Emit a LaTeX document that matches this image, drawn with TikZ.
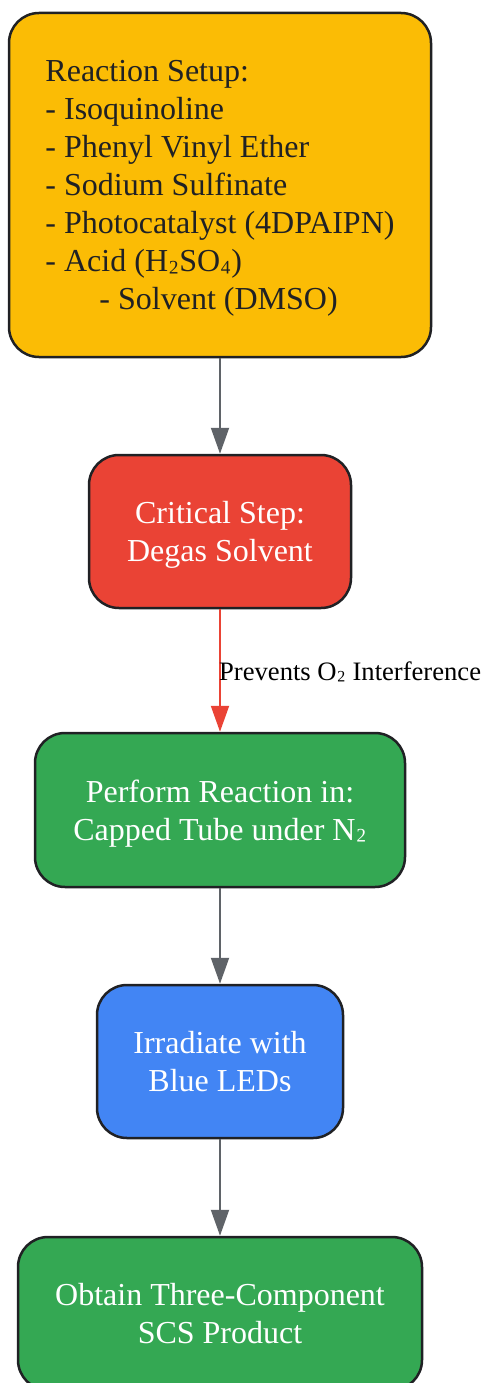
\documentclass[tikz,border=0pt]{standalone}
\usepackage{fontspec}
\setmainfont{Liberation Serif}
\usetikzlibrary{arrows.meta}

\definecolor{setupyellow}{HTML}{FBBC05}
\definecolor{degasred}{HTML}{EA4335}
\definecolor{tubegreen}{HTML}{34A853}
\definecolor{ledblue}{HTML}{4285F4}
\definecolor{boxline}{HTML}{202124}
\definecolor{flowgray}{HTML}{5F6368}

% subscript glyphs sit on the baseline
\newcommand{\subglyph}[1]{\raisebox{0.14em}{#1}}

\tikzset{
	stepbox/.style={draw=boxline, line width=2.5pt, rounded corners=30pt,
		align=center, text=white, inner sep=0pt, text depth=0pt,
		font=\fontsize{32}{38}\selectfont},
	flow/.style={-{Triangle[length=26pt,width=18pt]}, line width=2pt, draw=flowgray},
}

\begin{document}
\begin{tikzpicture}[x=1pt, y=-1pt]
	\useasboundingbox (0,0) rectangle (485,1383);

	\node [stepbox, fill=setupyellow, text=boxline, align=left,
		minimum width=422pt, minimum height=344pt] (setup) at (220,185)
		{Reaction Setup:\\- Isoquinoline\\- Phenyl Vinyl Ether\\- Sodium Sulfinate\\
		 - Photocatalyst (4DPAIPN)\\- Acid (H\subglyph{₂}SO\subglyph{₄})\\\hspace*{54pt}- Solvent (DMSO)};
	\node [stepbox, fill=degasred, minimum width=262pt, minimum height=153pt]
		(degas) at (220,531.5) {Critical Step:\\Degas Solvent};
	\node [stepbox, fill=tubegreen, minimum width=370pt, minimum height=154pt]
		(tube) at (220,810) {Perform Reaction in:\\Capped Tube under N\subglyph{₂}};
	\node [stepbox, fill=ledblue, minimum width=246pt, minimum height=153pt]
		(leds) at (220,1061.5) {Irradiate with\\Blue LEDs};
	\node [stepbox, fill=tubegreen, minimum width=404pt, minimum height=153pt]
		(product) at (220,1313.5) {Obtain Three-Component\\SCS Product};

	\draw [flow] (setup) -- (degas);
	\draw [flow, draw=degasred] (degas) -- (tube);
	\draw [flow] (tube) -- (leds);
	\draw [flow] (leds) -- (product);

	\node [right, inner sep=0pt, font=\fontsize{26.6}{31}\selectfont] (o2note)
		at (219,672) {Prevents O\subglyph{₂} Interference};
\end{tikzpicture}
\end{document}
